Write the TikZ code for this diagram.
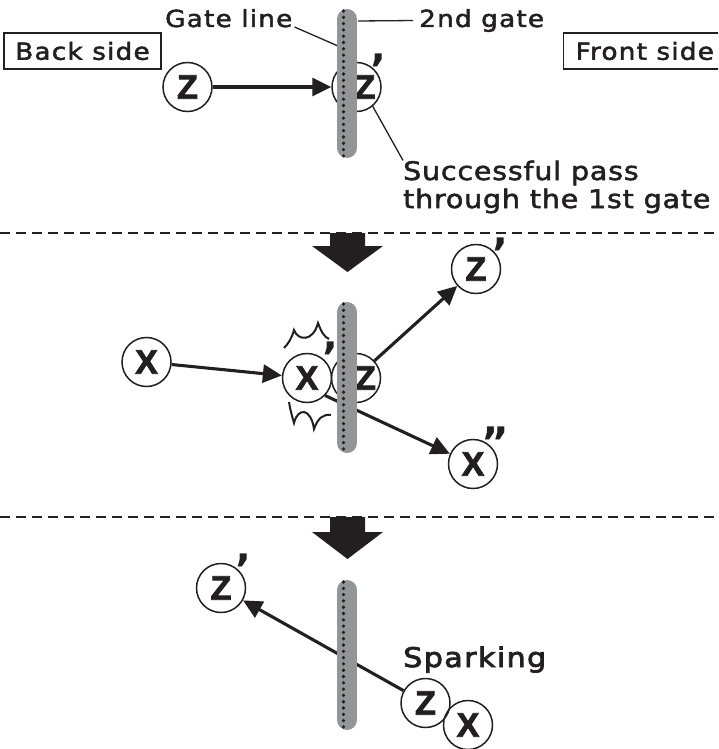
\documentclass[tikz,border=0pt]{standalone}
\usepackage{fontspec}
\setmainfont[FakeStretch=1.12,LetterSpace=5,FakeBold=2]{DejaVu Sans}
\newfontfamily\succfont[FakeStretch=1.12,LetterSpace=3,FakeBold=2]{DejaVu Sans}
\newfontfamily\circfont[FakeBold=2.4]{Liberation Sans}
\newfontfamily\primefont{DejaVu Sans}
\newfontfamily\sparkfont[FakeStretch=1.12,LetterSpace=5,FakeBold=3]{DejaVu Sans}
\usetikzlibrary{arrows.meta}
\definecolor{gategray}{RGB}{148,149,152}
\definecolor{inkblack}{RGB}{35,31,32}
\tikzset{
  every node/.style={text=inkblack},
  ball/.style={circle, draw=inkblack, line width=1.5pt, minimum size=49pt, inner sep=0pt,
    font=\circfont\bfseries\fontsize{34}{34}\selectfont},
  lbl/.style={font=\fontsize{23.5}{26}\selectfont, inner sep=0pt, anchor=base west},
  biglbl/.style={font=\succfont\fontsize{25.5}{28}\selectfont, inner sep=0pt, anchor=base west},
  sidebox/.style={draw=inkblack, line width=1.3pt, minimum height=36pt, inner ysep=0pt,
    font=\fontsize{23.5}{26}\selectfont},
  arr/.style={draw=inkblack, line width=3.1pt, -{Triangle[length=19pt,width=18pt]}},
  leader/.style={draw=inkblack, line width=1.3pt},
  sepline/.style={draw=inkblack, line width=2.8pt, dash pattern=on 9.5pt off 6.5pt},
  gatebar/.style={line width=20pt, line cap=round, draw=gategray},
  gatedots/.style={draw=inkblack, line width=3.6pt, line cap=round, dash pattern=on 0pt off 6.3pt},
  bigarrow/.style={fill=inkblack},
  primemark/.style={font=\primefont\bfseries\fontsize{42}{42}\selectfont, inner sep=0pt, anchor=north},
  spark/.style={draw=inkblack, line width=2pt},
}
\begin{document}
\begin{tikzpicture}[x=1pt,y=-1pt]
\useasboundingbox (0,0) rectangle (718,749);
\clip (0,0) rectangle (718,749);

% separators and big arrows
\draw[sepline] (0,233) -- (718,233);
\draw[sepline] (0,517) -- (718,517);
\fill[bigarrow] (330,233) -- (365,233) -- (365,246) -- (383,246) -- (347.5,272) -- (312,246) -- (330,246) -- cycle;
\fill[bigarrow] (330,517) -- (365,517) -- (365,532) -- (383,532) -- (347.5,559) -- (312,532) -- (330,532) -- cycle;

% ---------- top panel ----------
\node[lbl] (gl) at (165,27) {Gate line};
\node[lbl] (g2) at (419,27) {2nd gate};
\node[sidebox, minimum width=157pt] (back) at (82.5,51) {Back side};
\node[sidebox, anchor=west, inner xsep=12pt] (front) at (563,51) {Front side\hspace*{30pt}};
\node[ball] (Z1) at (187.5,87) {Z};
\node[ball] (Z1p) at (356.5,87) {\hspace*{17pt}Z};
\node[biglbl] (succ1) at (403,180) {Successful pass};
\node[biglbl] (succ2) at (403,208) {through the 1st gate};
\coordinate (glend) at (338,46);
\coordinate (g2start) at (358,21);
\draw[leader] ([xshift=2pt]gl.base east) -- (glend);
\draw[leader] (g2start) -- ([xshift=-6pt]g2.west);
\draw[leader] (Z1p.-50) -- (succ1.north west);
\draw[arr] (Z1) -- (Z1p);
\draw[gatebar] (347,19) -- (347,148);
\draw[gatedots] (343.5,11) -- (343.5,158);
\node[primemark] (pr1) at (378,54) {’};

% ---------- middle panel ----------
\node[ball] (X1) at (146.5,362) {X};
\node[ball] (X2) at (307,378) {X};
\node[ball] (Z2) at (356,378) {\hspace*{19pt}Z};
\node[ball] (Z2p) at (476,269) {Z};
\node[ball] (X2pp) at (473,464) {X};
\draw[arr] (X1) -- (X2);
\draw[arr] (Z2.43) -- (Z2p);
\draw[arr] (X2.-44) -- (X2pp.156);
\draw[gatebar] (347,312) -- (347,443);
\draw[gatedots] (343.5,304) -- (343.5,452);
\node[primemark] (pr2) at (330,342) {’};
\node[primemark] (pr3) at (500,238) {’};
\node[primemark] (pr4) at (495,427) {”};
\draw[spark] (284,348) .. controls (288,344) and (292,338) .. (294,330)
  .. controls (298,341) and (313,342) .. (318,323)
  .. controls (321,331) and (324,337) .. (329,339);
\draw[spark] (289,402) .. controls (290,409) and (292,416) .. (294,423)
  .. controls (298,407) and (311,408) .. (314,429)
  .. controls (318,418) and (323,414) .. (331,415);

% ---------- bottom panel ----------
\node[ball] (Z3p) at (221,588) {Z};
\node[ball] (Z3) at (425.5,703) {Z};
\node[ball] (X3) at (468,725) {X};
\node[font=\sparkfont\fontsize{27}{30}\selectfont, inner sep=0pt, anchor=base west] (spk) at (403,667) {Sparking};
\draw[arr] (Z3) -- (Z3p);
\draw[gatebar] (347,590) -- (347,720);
\draw[gatedots] (343.5,582) -- (343.5,729);
\node[primemark] (pr5) at (243,554) {’};
\end{tikzpicture}
\end{document}
